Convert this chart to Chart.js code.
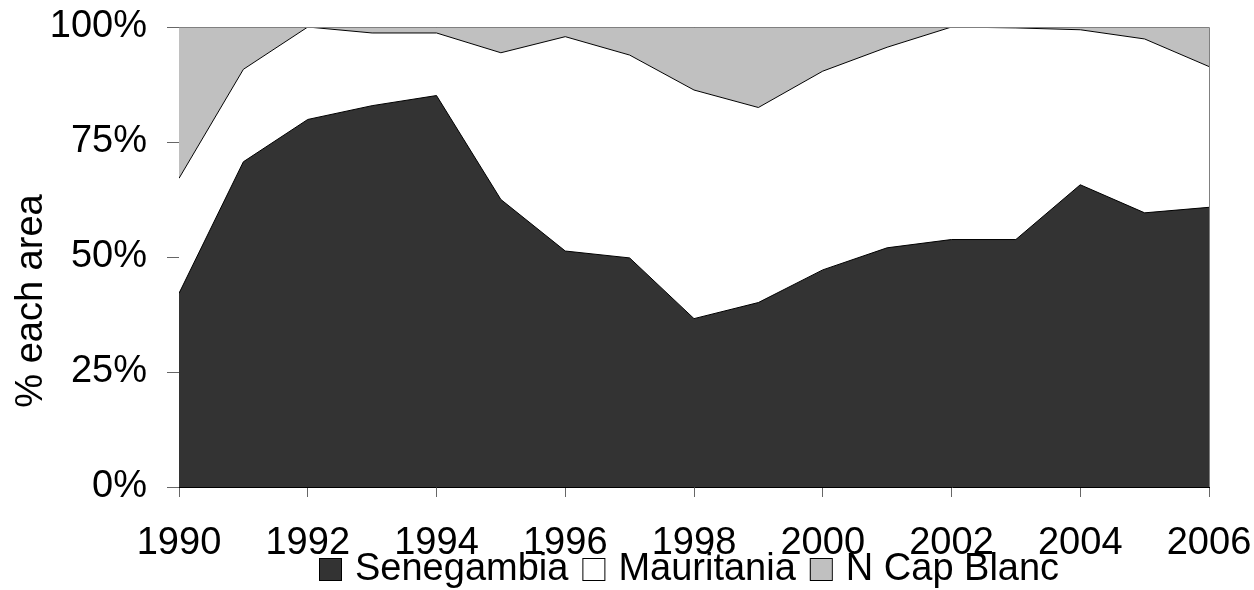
<!DOCTYPE html>
<html>
<head>
<meta charset="utf-8">
<script src="https://cdn.jsdelivr.net/npm/chart.js@4/dist/chart.umd.min.js"></script>
<style>
  body { margin: 0; background: #fff; }
  #wrap { width: 1254px; height: 590px; position: relative; }
</style>
</head>
<body>
<div id="wrap"><canvas id="chart" width="1254" height="590"></canvas></div>
<script>
// años y porcentajes de cada zona
const anios = [1990, 1991, 1992, 1993, 1994, 1995, 1996, 1997, 1998, 1999, 2000, 2001, 2002, 2003, 2004, 2005, 2006];
const senegambia = [42.1, 70.7, 79.9, 82.9, 85.1, 62.5, 51.3, 49.8, 36.6, 40.1, 47.2, 52.0, 53.8, 53.8, 65.7, 59.6, 60.8];
const mauritania = [25.0, 20.1, 20.1, 15.8, 13.6, 31.9, 46.6, 44.1, 49.7, 42.4, 43.2, 43.6, 46.2, 46.0, 33.7, 37.8, 30.6];
const capBlanc = [32.9, 9.2, 0.0, 1.3, 1.3, 5.6, 2.1, 6.1, 13.7, 17.5, 9.6, 4.4, 0.0, 0.2, 0.6, 2.6, 8.6];
const ticksY = [0, 25, 50, 75, 100];

const fuente = "'Liberation Sans', Arial, sans-serif";
const puntos = (serie) => anios.map((a, i) => ({ x: a, y: serie[i] }));

// Plugin para el título del eje Y, el borde y la leyenda
const extras = {
    id: 'extras',
    afterDraw(chart) {
        const ctx = chart.ctx;
        const area = chart.chartArea;
        ctx.save();

        // borde del área de trazado
        ctx.strokeStyle = '#808080';
        ctx.lineWidth = 1;
        ctx.beginPath();
        ctx.moveTo(area.left, area.top + 0.5);
        ctx.lineTo(area.right + 0.5, area.top + 0.5);
        ctx.lineTo(area.right + 0.5, area.bottom);
        ctx.stroke();

        // título eje Y
        ctx.fillStyle = '#000';
        ctx.font = '38px ' + fuente;
        ctx.translate(42, 301);
        ctx.rotate(-Math.PI / 2);
        ctx.textAlign = 'center';
        ctx.textBaseline = 'alphabetic';
        ctx.fillText('% each area', 0, 0);
        ctx.restore();

        // leyenda
        ctx.save();
        ctx.font = '38px ' + fuente;
        ctx.textBaseline = 'alphabetic';
        let x = 319;
        chart.data.datasets.forEach(ds => {
            ctx.fillStyle = ds.backgroundColor;
            ctx.fillRect(x, 558, 22, 22);
            ctx.strokeStyle = '#000';
            ctx.lineWidth = 1;
            ctx.strokeRect(x + 0.5, 558.5, 22, 22);
            ctx.fillStyle = '#000';
            ctx.fillText(ds.label, x + 36, 580);
            x += 36 + ctx.measureText(ds.label).width + 14;
        });
        ctx.restore();
    }
};

new Chart(document.getElementById('chart'), {
    type: 'line',
    data: {
        datasets: [
            { label: 'Senegambia', data: puntos(senegambia), backgroundColor: '#333333', fill: 'origin' },
            { label: 'Mauritania', data: puntos(mauritania), backgroundColor: '#ffffff', fill: '-1' },
            { label: 'N Cap Blanc', data: puntos(capBlanc), backgroundColor: '#c0c0c0', fill: '-1' }
        ].map(d => Object.assign(d, { borderColor: '#000', borderWidth: 1, pointRadius: 0, tension: 0 }))
    },
    options: {
        responsive: false,
        animation: false,
        layout: { padding: { top: 27, right: 45, left: 0, bottom: 0 } },
        plugins: { legend: { display: false }, tooltip: { enabled: false } },
        scales: {
            x: {
                type: 'linear',
                min: 1990,
                max: 2006,
                ticks: {
                    stepSize: 2,
                    color: '#000',
                    font: { family: fuente, size: 38 },
                    padding: 24,
                    maxRotation: 0,
                    callback: v => String(v)
                },
                grid: { drawOnChartArea: false, tickLength: 10, tickColor: '#666' },
                border: { color: '#000' },
                afterFit: s => { s.height = 103; s.paddingLeft = 0; s.paddingRight = 0; }
            },
            y: {
                stacked: true,
                min: 0,
                max: 100,
                afterBuildTicks: s => { s.ticks = ticksY.map(v => ({ value: v })); },
                ticks: {
                    color: '#000',
                    font: { family: fuente, size: 38 },
                    padding: 20,
                    callback: v => v + '%'
                },
                grid: { drawOnChartArea: false, tickLength: 12, tickColor: '#666' },
                border: { color: '#000' },
                afterFit: s => { s.width = 179; s.paddingTop = 0; s.paddingBottom = 0; }
            }
        }
    },
    plugins: [extras]
});
</script>
</body>
</html>
